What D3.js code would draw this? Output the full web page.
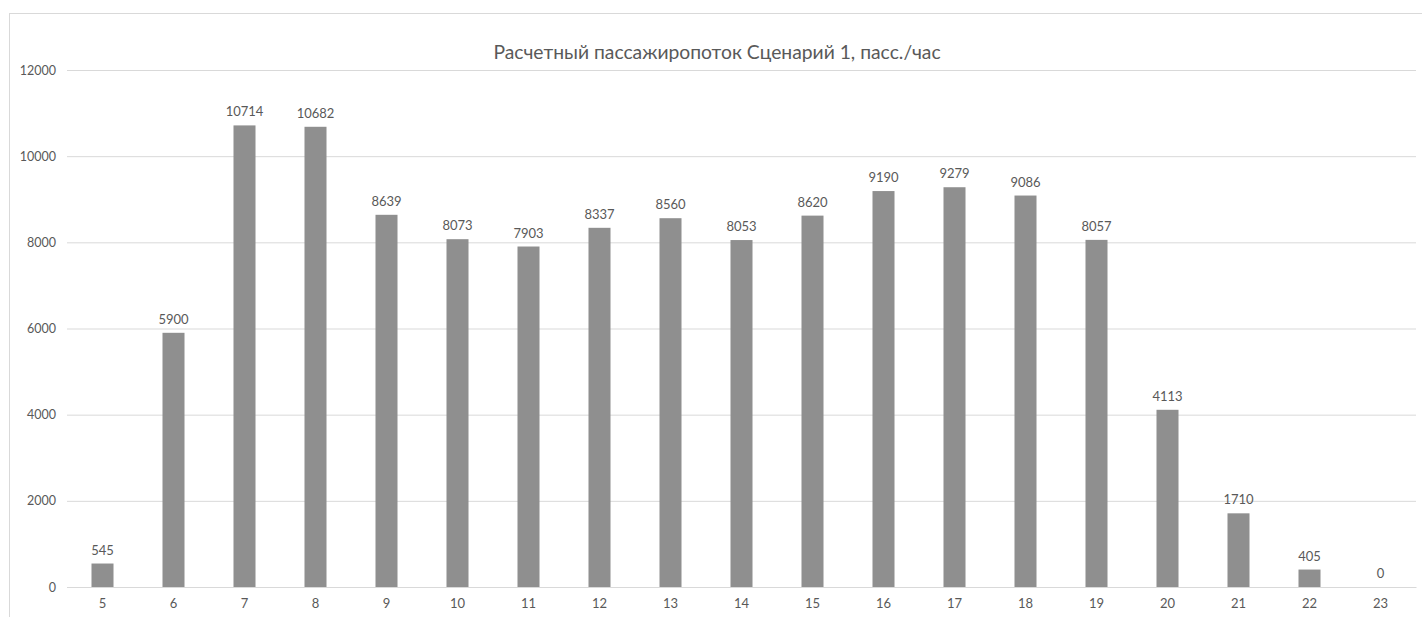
<!DOCTYPE html>
<html>
<head>
<meta charset="utf-8">
<script src="https://cdn.jsdelivr.net/npm/d3@7"></script>
<style>
  body { margin: 0; background: #fff; }
  text { font-family: Lato, "Noto Sans", sans-serif; fill: #595959; }
</style>
</head>
<body>
<div id="chart"></div>
<script>
// Data.
const hours = ['5', '6', '7', '8', '9', '10', '11', '12', '13', '14', '15', '16', '17', '18', '19', '20', '21', '22', '23'];
const flow = [545, 5900, 10714, 10682, 8639, 8073, 7903, 8337, 8560, 8053, 8620, 9190, 9279, 9086, 8057, 4113, 1710, 405, 0];
const yTicks = [0, 2000, 4000, 6000, 8000, 10000, 12000];
const title = 'Расчетный пассажиропоток Сценарий 1, пасс./час';

// Margin convention.
const W = 1422, H = 617;
const margin = { top: 70, right: 6, bottom: 30, left: 67 };
const width = W - margin.left - margin.right;
const height = H - margin.top - margin.bottom;

const svg = d3.select('#chart')
  .append('svg')
  .attr('width', W)
  .attr('height', H);

// Chart frame.
svg.append('rect')
  .attr('x', 9.5)
  .attr('y', 13.5)
  .attr('width', W + 20)
  .attr('height', H + 20)
  .attr('fill', 'none')
  .attr('stroke', '#d9d9d9');

const g = svg.append('g').attr('transform', `translate(${margin.left},${margin.top})`);

// Scales.
const x = d3.scaleBand().domain(hours).range([0, width]).paddingInner(0.69).paddingOuter(0.345);
const y = d3.scaleLinear().domain([0, 12000]).range([height, 0]);

// Grid + y labels.
const yAxis = d3.axisLeft(y).tickValues(yTicks).tickFormat(d3.format('d')).tickSize(-width).tickPadding(11);
g.append('g')
  .attr('class', 'y axis')
  .call(yAxis)
  .call(a => a.select('.domain').remove())
  .call(a => a.selectAll('line').attr('stroke', '#d9d9d9'))
  .call(a => a.selectAll('text').style('font-size', '12.5px').attr('fill', '#595959'));

// Bars.
g.append('g')
  .selectAll('rect')
  .data(flow)
  .join('rect')
  .attr('x', (d, i) => x(hours[i]))
  .attr('y', d => y(d))
  .attr('width', x.bandwidth())
  .attr('height', d => height - y(d))
  .attr('fill', '#8f8f8f');

// Data labels.
g.append('g')
  .selectAll('text')
  .data(flow)
  .join('text')
  .attr('x', (d, i) => x(hours[i]) + x.bandwidth() / 2)
  .attr('y', d => y(d) - 9)
  .attr('text-anchor', 'middle')
  .style('font-size', '13px')
  .text(d => d);

// X axis.
const xAxis = d3.axisBottom(x).tickSize(0).tickPadding(12);
g.append('g')
  .attr('class', 'x axis')
  .attr('transform', `translate(0,${height})`)
  .call(xAxis)
  .call(a => a.select('.domain').attr('stroke', '#d9d9d9'))
  .call(a => a.selectAll('text').style('font-size', '13px').attr('fill', '#595959'));

// Title.
svg.append('text')
  .attr('x', 717)
  .attr('y', 59)
  .attr('text-anchor', 'middle')
  .style('font-size', '19.3px')
  .text(title);
</script>
</body>
</html>
